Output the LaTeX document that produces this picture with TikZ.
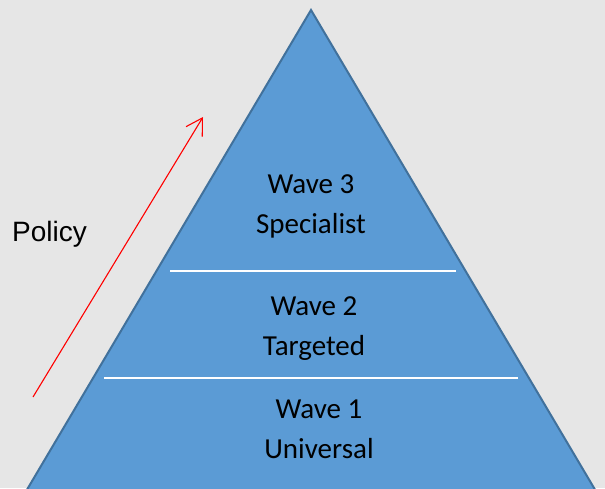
\documentclass[tikz,border=0pt]{standalone}
\usepackage{fontspec}
\setmainfont{Carlito}
\newfontfamily\policyfont{Liberation Sans}
\usetikzlibrary{arrows.meta}

\definecolor{bgrey}{HTML}{E6E6E6}
\definecolor{pyrblue}{HTML}{5B9BD5}
\definecolor{pyredge}{HTML}{41719C}

\begin{document}
\begin{tikzpicture}[x=1pt, y=-1pt,
    wave/.style={align=center, anchor=base, font=\fontsize{29}{40}\selectfont},
    divider/.style={draw=white, line width=1.6pt}]
        % background
        \fill[bgrey] (0,0) rectangle (605,488);
        \useasboundingbox (0,0) rectangle (605,488);
        \clip (0,0) rectangle (605,488);

        % pyramid
        \coordinate (top) at (311,10);
        \coordinate (bl) at (25,493);
        \coordinate (br) at (597,493);
        \filldraw[fill=pyrblue, draw=pyredge, line width=2pt, line join=miter] (top) -- (bl) -- (br) -- cycle;

        % levels
        \draw[divider] (170,271) -- (456,271);
        \draw[divider] (104,378) -- (518,378);

        % labels
        \node[wave] (w3) at (311,233) {Wave 3\\Specialist};
        \node[wave] (w2) at (314,355) {Wave 2\\Targeted};
        \node[wave] (w1) at (319,458) {Wave 1\\Universal};

        % policy arrow
        \coordinate (p0) at (33,397);
        \coordinate (p1) at (203,117);
        \draw[red, line width=1.1pt, -{Straight Barb[length=16pt,width=19pt]}] (p0) -- (p1);
        \node[font=\policyfont\fontsize{28}{30}\selectfont, anchor=base west, inner sep=0pt] (policy) at (12,241) {Policy};
    \end{tikzpicture}
\end{document}
